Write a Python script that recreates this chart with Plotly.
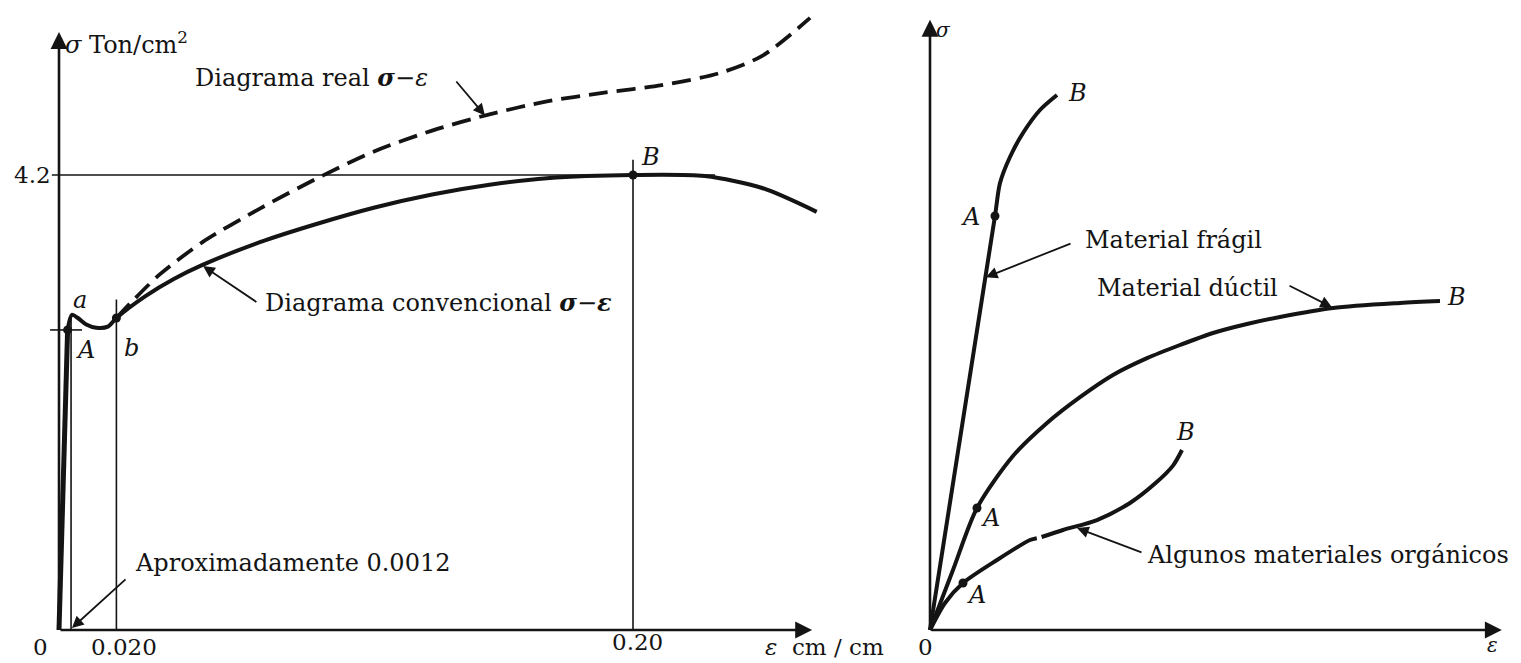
import plotly.graph_objects as go

# ---------------- LEFT PANEL DATA (eps cm/cm, sigma Ton/cm2) ----------------
elastic_eps = [0.0, 0.003]
elastic_sig = [0.0, 2.77]

conv_eps = [0.003, 0.0045, 0.0066, 0.0095, 0.013, 0.017, 0.020, 0.030, 0.040,
            0.050, 0.070, 0.090, 0.110, 0.130, 0.150, 0.170, 0.200, 0.225, 0.245, 0.264]
conv_sig = [2.77, 2.91, 2.88, 2.82, 2.79, 2.80, 2.88, 3.08, 3.24,
            3.37, 3.58, 3.75, 3.90, 4.02, 4.11, 4.17, 4.20, 4.19, 4.08, 3.86]

real_eps = [0.020, 0.025, 0.035, 0.050, 0.070, 0.090, 0.110, 0.130,
            0.150, 0.170, 0.190, 0.210, 0.230, 0.245, 0.2617]
real_sig = [2.88, 3.02, 3.28, 3.58, 3.89, 4.17, 4.42, 4.61,
            4.76, 4.88, 4.96, 5.03, 5.14, 5.30, 5.65]

left_pt_eps = [0.003, 0.020, 0.200]
left_pt_sig = [2.77, 2.88, 4.20]

x_tick_vals = [0.0, 0.020, 0.20]
x_tick_text = ["0", "0.020", "0.20"]
y_tick_vals = [4.2]
y_tick_text = ["4.2"]

sigma_u = 4.2
eps_b = 0.020
eps_B = 0.20
eps_A_prop = 0.0042

# ---------------- RIGHT PANEL DATA (schematic units) ----------------
fragil_eps = [0.0, 1.083, 1.167, 1.333, 1.55, 1.833, 2.117]
fragil_sig = [0.0, 6.90, 7.45, 7.883, 8.283, 8.667, 8.917]

ductil_eps = [0.0, 0.383, 0.783, 1.383, 1.95, 2.5, 3.05, 3.617, 4.167, 4.717,
              5.283, 5.833, 6.717, 7.833, 8.5]
ductil_sig = [0.0, 1.0, 2.033, 2.90, 3.45, 3.88, 4.25, 4.53, 4.75, 4.95,
              5.10, 5.217, 5.367, 5.45, 5.483]

organ_eps = [0.0, 0.25, 0.55, 1.117, 1.667, 1.78, None, 1.86, 2.217, 2.783, 3.333, 3.75, 4.05, 4.2]
organ_sig = [0.0, 0.45, 0.783, 1.167, 1.50, 1.53, None, 1.55, 1.667, 1.833, 2.117, 2.44, 2.74, 3.0]

right_A_eps = [1.083, 0.783, 0.55]
right_A_sig = [6.90, 2.033, 0.783]

INK = "#141414"
FONT = "DejaVu Serif"
# page body has an 8px margin: the figure starts 8px in from the top-left
W, H = 1513, 655
split = 852 / W

fig = go.Figure()

def line(x, y, width, xa="x", ya="y", dash=None, shape="linear"):
    fig.add_trace(go.Scatter(x=x, y=y, mode="lines", xaxis=xa, yaxis=ya,
                             line=dict(color=INK, width=width, dash=dash, shape=shape,
                                       smoothing=0.8),
                             hoverinfo="skip", showlegend=False))

# guide lines (left)
line([-0.0025, 0.2286], [sigma_u, sigma_u], 1.6)
line([eps_b, eps_b], [0, 3.05], 1.6)
line([eps_B, eps_B], [0, 4.34], 1.6)
line([-0.0031, 0.008], [elastic_sig[1], elastic_sig[1]], 1.6)
line([eps_A_prop, eps_A_prop], [0, 2.9], 1.6)

# curves (left)
line(elastic_eps, elastic_sig, 5)
line(conv_eps, conv_sig, 4, shape="spline")
line(real_eps, real_sig, 3.8, dash="19px,9px", shape="spline")
fig.add_trace(go.Scatter(x=left_pt_eps, y=left_pt_sig, mode="markers",
                         marker=dict(color=INK, size=9), hoverinfo="skip", showlegend=False))

# curves (right)
line(fragil_eps, fragil_sig, 4, "x2", "y2", shape="spline")
line(ductil_eps, ductil_sig, 4, "x2", "y2", shape="spline")
line(organ_eps, organ_sig, 4, "x2", "y2", shape="spline")
fig.add_trace(go.Scatter(x=right_A_eps, y=right_A_sig, mode="markers", xaxis="x2", yaxis="y2",
                         marker=dict(color=INK, size=9), hoverinfo="skip", showlegend=False))

ann = []

def arrow(x, y, ax, ay, xr="x", yr="y", w=2.2, head=2, size=1.3):
    ann.append(dict(x=x, y=y, ax=ax, ay=ay, xref=xr, yref=yr, axref=xr, ayref=yr,
                    text="", showarrow=True, arrowhead=head, arrowsize=size,
                    arrowwidth=w, arrowcolor=INK, standoff=0, startstandoff=0))

def label(x, y, t, xr="x", yr="y", xa="left", size=24, xs=0, ys=0):
    ann.append(dict(x=x, y=y, xref=xr, yref=yr, text=t, showarrow=False,
                    xanchor=xa, yanchor="middle", xshift=xs, yshift=ys,
                    font=dict(family=FONT, size=size, color=INK)))

# axes (left)
arrow(0, 5.52, 0, 0, w=2.6)
arrow(0.2624, 0, 0, 0, w=2.6)
# axes (right)
arrow(0, 10.17, 0, 0, "x2", "y2", w=2.6)
arrow(9.53, 0, 0, 0, "x2", "y2", w=2.6)

# tick labels left
tick_shift = [-19, 8, 4]
tick_yshift = [-17, -17, -12]
for v, t, s, ys in zip(x_tick_vals, x_tick_text, tick_shift, tick_yshift):
    label(v, 0, t, xa="center", xs=s, ys=ys, size=23)
for v, t in zip(y_tick_vals, y_tick_text):
    label(0, v, t, xa="right", xs=-6, size=23)

label(0.0014, 5.42, "<i>σ</i> Ton/cm<sup>2</sup>")
label(0.2453, -0.157, "<i>ε</i>  cm / cm", size=23)
label(0.0467, 5.096, "Diagrama real <b><i>σ</i></b>−<i>ε</i>")
arrow(0.1484, 4.75, 0.138, 5.077, w=1.8)
label(0.0711, 3.019, "Diagrama convencional <b><i>σ</i></b>−<b><i>ε</i></b>")
arrow(0.0502, 3.36, 0.0693, 3.019, w=1.8)
label(0.0258, 0.62, "Aproximadamente 0.0012")
arrow(0.0045, 0.018, 0.0237, 0.48, w=1.8)

label(0.0091, 2.585, "<i>A</i>", xa="center")
label(0.0073, 3.046, "<i>a</i>", xa="center")
label(0.0254, 2.603, "<i>b</i>", xa="center")
label(0.206, 4.366, "<i>B</i>", xa="center")

# right labels
label(0.22, 10.0, "<i>σ</i>", "x2", "y2", xa="center", size=20)
label(9.383, -0.25, "<i>ε</i>", "x2", "y2", xa="center", size=20)
label(-0.083, -0.283, "0", "x2", "y2", xa="center", size=23)
label(0.667, 6.883, "<i>A</i>", "x2", "y2", xa="center")
label(2.45, 8.95, "<i>B</i>", "x2", "y2", xa="center")
label(1.0, 1.867, "<i>A</i>", "x2", "y2", xa="center")
label(8.767, 5.55, "<i>B</i>", "x2", "y2", xa="center")
label(0.783, 0.583, "<i>A</i>", "x2", "y2", xa="center")
label(4.25, 3.3, "<i>B</i>", "x2", "y2", xa="center")

label(2.55, 6.5, "Material frágil", "x2", "y2")
arrow(0.93, 5.88, 2.367, 6.45, "x2", "y2", w=1.8)
label(2.75, 5.7, "Material dúctil", "x2", "y2")
arrow(6.7, 5.38, 5.967, 5.75, "x2", "y2", w=1.8)
label(3.583, 1.25, "Algunos materiales orgánicos", "x2", "y2")
arrow(2.45, 1.70, 3.55, 1.283, "x2", "y2", w=1.8)

ax_common = dict(visible=False, showgrid=False, zeroline=False, fixedrange=True)
fig.update_layout(
    width=W, height=H,
    margin=dict(l=0, r=0, t=0, b=0),
    paper_bgcolor="white", plot_bgcolor="white",
    showlegend=False,
    xaxis=dict(domain=[0, split], range=[-0.01777, 0.27909], anchor="y", **ax_common),
    yaxis=dict(domain=[0, 1], range=[-0.30462, 5.7417], anchor="x", **ax_common),
    xaxis2=dict(domain=[split, 1], range=[-1.16667, 9.85], anchor="y2", **ax_common),
    yaxis2=dict(domain=[0, 1], range=[-0.55, 10.3667], anchor="x2", **ax_common),
    annotations=ann,
)

fig.write_html("out.html")
